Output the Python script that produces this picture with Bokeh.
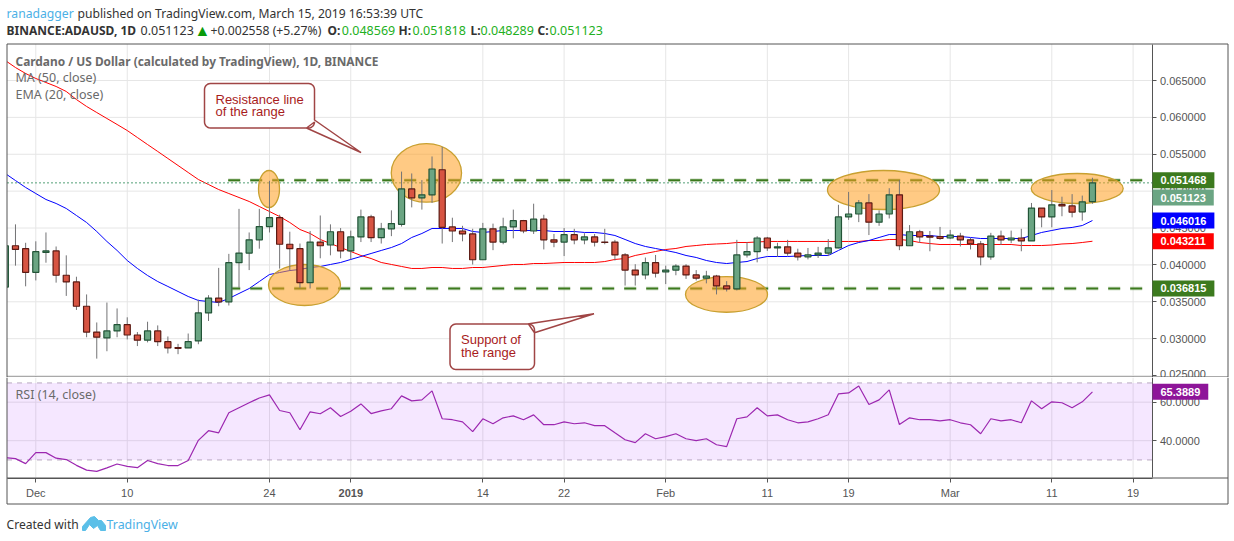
from bokeh.plotting import figure
from bokeh.layouts import column
from bokeh.models import Label, FixedTicker, NumeralTickFormatter, Range1d
from bokeh.embed import file_html
from bokeh.resources import INLINE
import math

# all prices below are in thousandths of a US dollar
first_day = -3  # 2018-11-28, day 0 is 2018-12-01
opens = [37.0,42.6,42.2,39.0,41.7,41.9,38.6,37.7,34.4,30.9,30.1,31.05,31.9,30.5,29.8,31.05,29.6,28.8,28.75,29.7,33.5,35.5,35.0,40.3,41.6,43.4,45.2,46.4,42.8,42.2,37.6,43.1,42.7,44.5,41.9,43.8,46.5,43.7,44.9,45.5,50.3,49.1,49.5,52.9,45.15,44.6,44.2,40.7,44.9,43.1,45.15,46.0,44.6,46.2,43.4,43.1,44.1,43.4,43.8,43.1,43.1,41.35,39.3,38.65,40.3,39.05,39.3,39.85,38.65,38.2,38.5,37.15,36.75,41.35,41.8,43.65,42.3,42.45,41.6,41.1,41.35,41.6,42.3,46.5,46.9,48.4,45.8,46.9,49.5,42.6,44.5,43.9,43.85,43.65,43.9,43.4,42.85,41.1,43.9,43.4,43.65,43.25,47.7,46.5,48.2,48.0,47.2,48.569]
closes = [42.6,42.1,39.0,41.8,41.9,38.6,37.7,34.4,30.9,30.2,31.05,31.9,30.5,29.8,31.05,29.6,28.75,28.7,29.6,33.5,35.5,35.0,40.3,41.6,43.4,45.2,46.4,42.8,42.2,37.6,43.1,42.6,44.5,41.9,43.8,46.5,43.7,44.9,45.6,50.3,49.1,49.5,53.0,45.1,44.6,44.2,40.7,44.9,43.1,45.15,46.0,44.6,46.2,43.4,43.1,44.1,43.4,43.8,43.1,43.05,41.35,39.3,38.65,40.3,38.9,39.3,39.85,38.65,38.2,38.5,37.15,36.75,41.35,41.8,43.65,42.3,42.45,41.6,41.1,41.35,41.6,42.3,46.5,46.9,48.4,45.8,46.9,49.5,42.6,44.5,43.8,43.75,43.6,44.05,43.4,42.85,41.1,43.9,43.4,43.65,43.25,47.7,46.5,48.15,48.0,47.15,48.55,51.123]
highs = [44.5,45.5,43.0,43.2,44.4,42.5,41.3,38.4,36.0,32.2,34.9,34.1,32.9,30.9,32.3,31.8,30.3,29.3,30.7,35.3,35.9,39.6,41.5,47.6,44.4,47.6,51.4,46.8,44.5,42.9,44.6,46.7,45.5,45.0,44.65,47.5,46.8,45.7,47.4,52.65,52.4,51.5,54.7,56.0,46.4,45.3,44.9,45.7,45.6,46.4,47.5,46.1,48.3,46.8,44.2,45.0,44.9,44.3,44.2,44.9,43.4,41.6,40.1,41.0,41.35,39.9,40.1,40.1,39.3,39.2,38.65,37.8,43.4,43.1,43.9,43.8,43.0,43.4,42.2,42.3,42.45,43.5,48.15,49.9,48.8,49.6,47.4,50.4,51.5,45.4,44.75,44.6,45.15,44.75,44.35,43.65,43.25,44.35,44.65,44.65,44.9,48.4,47.7,50.15,49.25,49.6,49.4,51.818]
lows = [36.5,39.9,37.1,37.9,40.3,37.6,35.8,33.9,30.2,27.3,28.3,30.2,29.9,29.0,29.5,29.0,28.0,27.9,28.75,29.25,32.4,34.4,34.5,36.9,39.3,42.2,44.4,39.5,39.2,36.9,36.8,40.9,41.3,40.9,40.8,43.1,43.1,42.9,43.9,45.2,47.8,47.5,48.4,42.9,43.1,43.2,40.05,40.7,42.0,42.8,43.6,44.3,44.2,42.1,42.4,41.2,42.8,42.8,42.5,42.8,40.6,37.2,37.2,38.05,38.3,37.4,38.6,38.1,37.9,37.5,36.0,36.4,36.55,41.0,40.35,41.9,41.1,41.25,40.6,40.75,40.95,41.2,42.25,46.1,45.8,44.05,45.3,46.3,42.0,42.6,43.0,41.85,43.4,43.5,42.5,42.1,39.95,40.7,42.7,42.95,41.85,43.25,45.1,45.1,46.6,46.45,46.0,48.289]
ma50 = [67.71,66.76,65.95,65.27,64.73,64.19,63.51,62.42,61.48,60.66,59.85,59.04,58.22,57.27,56.32,55.38,54.43,53.48,52.53,51.58,50.90,50.22,49.68,49.14,48.60,47.92,47.24,46.56,45.75,44.80,44.26,43.45,42.90,42.36,41.82,41.28,40.87,40.33,40.06,39.79,39.52,39.52,39.65,39.65,39.52,39.52,39.65,39.65,39.79,39.93,40.06,40.06,40.19,40.19,40.26,40.33,40.33,40.33,40.33,40.46,40.74,40.87,41.28,41.55,41.82,42.09,42.23,42.50,42.63,42.77,42.84,42.90,43.04,43.04,43.11,43.18,43.18,43.18,43.18,43.18,43.18,43.18,43.18,43.18,43.18,43.31,43.31,43.45,43.45,43.31,43.04,42.90,42.77,42.77,42.77,42.77,42.77,42.77,42.77,42.77,42.63,42.63,42.63,42.70,42.84,42.90,43.04,43.211]
ema20 = [52.39,51.44,50.50,49.68,48.87,48.33,47.65,46.70,45.75,44.53,43.18,41.96,40.60,39.52,38.57,37.75,37.08,36.40,35.72,35.18,35.04,34.91,35.45,36.13,36.80,37.75,38.70,38.97,39.24,39.38,39.65,39.79,40.06,40.33,40.74,41.14,41.55,41.96,42.36,42.90,43.72,44.26,44.94,44.94,44.94,44.94,44.53,44.40,44.53,44.67,44.67,44.67,44.67,44.67,44.53,44.53,44.53,44.40,44.40,44.26,43.99,43.45,42.90,42.50,42.23,41.96,41.68,41.28,41.01,40.60,40.33,40.19,40.33,40.46,40.87,41.14,41.14,41.14,41.21,41.28,41.28,41.28,41.96,42.63,43.04,43.31,43.72,44.12,44.12,43.99,43.99,43.99,43.85,43.85,43.85,43.72,43.58,43.58,43.58,43.58,43.58,43.99,44.40,44.67,44.94,45.08,45.34,46.016]
rsi = [31.2,30.7,28.1,33.8,33.8,30.9,30.2,27.2,24.7,24.1,25.9,27.9,26.7,26.0,29.7,28.1,27.1,27.1,29.7,40.2,45.2,44.1,54.5,57.1,59.7,62.2,63.8,55.7,54.5,45.7,55.0,54.0,57.1,52.6,55.3,59.1,54.1,55.5,56.6,63.3,60.7,61.2,65.9,51.4,50.9,49.8,44.7,51.4,48.8,51.9,52.9,50.9,53.4,48.3,48.3,49.8,48.8,49.3,47.8,47.8,44.1,40.5,39.0,43.6,41.0,42.1,43.6,41.0,40.0,41.0,37.9,36.9,51.4,52.4,57.1,52.9,53.4,50.9,49.3,49.8,51.4,53.5,64.3,64.8,68.4,58.8,61.2,66.4,48.4,51.9,50.9,50.9,50.3,50.9,49.3,48.3,43.6,51.4,50.3,50.9,49.3,60.7,56.6,60.2,59.7,57.1,60.2,65.3889]
resistance = 51.468
support = 36.815
last_close = 51.123
tick_days = [0, 9, 23, 31, 44, 52, 62, 72, 80, 90, 100, 108]
tick_labels = ["Dec", "10", "24", "", "14", "22", "Feb", "11", "19", "Mar", "11", "19"]
price_ticks = [25, 30, 35, 40, 45, 50, 55, 60, 65]
rsi_ticks = [40, 60]

UP, DOWN, UP_EDGE, DOWN_EDGE, WICK = "#6ba583", "#d75442", "#225437", "#5b1a13", "#737375"
FRAME = "#555555"
GRID = "#e6e6e6"
TXT = "#6a6a6a"
SANS = "Noto Sans"
ARIAL = "Liberation Sans"
n = len(opens)
days = [first_day + i for i in range(n)]
P = 0.001

# pixel helpers for decoration (annotation texts, callouts, frame)
def dx(px): return (px - 35.3) / 10.16
def dy(py): return (65 - (py - 80) / 7.377) * P
def ry(py): return 60 - (py - 401.7) / 1.925

L, R = 6.5, 1151.5
xr = Range1d(dx(0), dx(1234))
main = figure(width=1234, height=377, min_border=0, x_range=xr, y_range=Range1d(dy(377), dy(0)),
              y_axis_location="right", output_backend="svg", toolbar_location=None)
main.xaxis.visible = False
main.grid.visible = False
main.outline_line_color = None
ax = main.yaxis[0]
ax.fixed_location = dx(R)
ax.bounds = (dy(377), dy(43.5))
ax.ticker = FixedTicker(ticks=[v * P for v in price_ticks])
ax.formatter = NumeralTickFormatter(format="0.000000")
ax.major_tick_in = 0; ax.major_tick_out = 4; ax.minor_tick_line_color = None
ax.axis_line_color = FRAME; ax.major_tick_line_color = FRAME
ax.major_label_text_font = ARIAL; ax.major_label_text_font_size = "11px"
ax.major_label_text_color = "#555555"; ax.major_label_standoff = 4

# grid
main.segment([dx(L)] * len(price_ticks), [v * P for v in price_ticks], [dx(R)] * len(price_ticks), [v * P for v in price_ticks],
             line_color=GRID, line_width=1)
main.segment(tick_days, [dy(43.5)] * len(tick_days), tick_days, [dy(377)] * len(tick_days), line_color=GRID, line_width=1)

main.line(days, [v * P for v in ma50], line_color="#ff0000", line_width=1)
main.line(days, [v * P for v in ema20], line_color="#0000ff", line_width=1)

# last price dotted line and range lines
main.line([dx(L), dx(R)], [last_close * P] * 2, line_color="#53a078", line_width=1, line_dash="2 2")
for lvl, x0, off in ((resistance, dx(227.7), 0), (support, dx(231.7), 4)):
    main.line([x0, dx(1142)], [lvl * P] * 2, line_color="#3c7a1e", line_width=4, line_dash="12 10", line_dash_offset=off, line_alpha=0.2)
    main.line([x0, dx(1142)], [lvl * P] * 2, line_color="#3c7a1e", line_width=2, line_dash="12 10", line_dash_offset=off)

# highlighted zones
ell_x = [dx(268.5), dx(304), dx(425.9), dx(726), dx(883), dx(1076.7)]
ell_y = [dy(188.5), dy(284.5), dy(172.4), dy(293.9), dy(189.5), dy(188)]
ell_w = [21 / 10.16, 72 / 10.16, 70.3 / 10.16, 82 / 10.16, 112 / 10.16, 92 / 10.16]
ell_h = [37 * P / 7.377, 41 * P / 7.377, 58.7 * P / 7.377, 35.7 * P / 7.377, 39 * P / 7.377, 30 * P / 7.377]
main.ellipse(ell_x, ell_y, ell_w, ell_h, fill_color="#ff9e1f", fill_alpha=0.55, line_color="#c8a030", line_width=1.3)

# candles
colors = [UP if c >= o else DOWN for o, c in zip(opens, closes)]
edges = [UP_EDGE if c >= o else DOWN_EDGE for o, c in zip(opens, closes)]
main.segment(days, [v * P for v in highs], days, [v * P for v in lows], line_color=WICK, line_width=1)
main.vbar(days, 0.6, [v * P for v in opens], [v * P for v in closes], fill_color=colors, line_color=edges, line_width=1.2)

# left margin mask, then frame
main.quad(left=dx(0), right=dx(L), bottom=dy(377), top=dy(0), fill_color="white", line_color=None)
main.segment([dx(L), dx(L), dx(1227.5)], [dy(43.5), dy(43.5), dy(43.5)], [dx(1227.5), dx(L), dx(1227.5)], [dy(43.5), dy(377), dy(377)],
             line_color=FRAME, line_width=1)
main.segment([dx(L)], [dy(376.5)], [dx(1227.5)], [dy(376.5)], line_color=FRAME, line_width=1)

def callout(body, r=6):
    """rounded box + tail, pixel polygon"""
    (l, t, rr, b), tail = body
    pts = []
    def arc(cx, cy, a0):
        for k in range(7):
            a = math.radians(a0 + 15 * k)
            pts.append((cx + r * math.cos(a), cy + r * math.sin(a)))
    arc(l + r, t + r, 180)
    pts += tail.get("top", [])
    arc(rr - r, t + r, 270)
    pts += tail.get("right", [])
    arc(rr - r, b - r, 0)
    pts += tail.get("bottom", [])
    arc(l + r, b - r, 90)
    main.patch([dx(p[0]) for p in pts], [dy(p[1]) for p in pts], fill_color="white",
               line_color="#a04545", line_width=1.5)

callout(((204, 83, 314, 127.5), {"right": [(314, 119.5), (360.5, 152), (306, 127.5)]}))
callout(((449.5, 323.5, 534, 369), {"top": [(527, 323.5), (593.5, 313.3), (534, 332.3)]}))

def lab(fig, x, y, text, color=TXT, size="12px", font=SANS, style="normal", **kw):
    fig.add_layout(Label(x=x, y=y, text=text, text_color=color, text_font_size=size, text_font=font,
                         text_font_style=style, text_baseline="middle", **kw))

for t, px, py in (("Resistance line", 215, 98.7), ("of the range", 215, 110.7), ("Support of", 460.5, 339.3), ("the range", 460.5, 351.7)):
    lab(main, dx(px), dy(py), t, "#a81c1c", "13px", ARIAL)

# header
H1, H2 = 12.5, 29.5
BLUE_TV, DARK, GREEN = "#4bb0e6", "#333333", "#22b022"
lab(main, dx(6), dy(H1), "ranadagger", BLUE_TV, "12.2px")
lab(main, dx(77), dy(H1), "published on TradingView.com, March 15, 2019 16:53:39 UTC", DARK, "12.15px")
lab(main, dx(6), dy(H2), "BINANCE:ADAUSD, 1D", DARK, "12px", style="bold")
lab(main, dx(140), dy(H2), "0.051123", DARK, "12.5px")
lab(main, dx(194), dy(H2), "\u25b2", "#0a9b0a", "16px")
lab(main, dx(210), dy(H2), "+0.002558 (+5.27%)", DARK, "12.2px")
for t, px in (("O:", 327), ("H:", 398), ("L:", 470), ("C:", 537)):
    lab(main, dx(px), dy(H2), t, DARK, "12px", style="bold")
for v, px in ((opens[-1], 341.3), (highs[-1], 412), (lows[-1], 480), (closes[-1], 549)):
    lab(main, dx(px), dy(H2), f"{v * P:.6f}", GREEN, "12.5px")

# legend
lab(main, dx(15), dy(60), "Cardano / US Dollar (calculated by TradingView), 1D, BINANCE", TXT, "11.9px", style="bold")
lab(main, dx(15), dy(77), "MA (50, close)", TXT, "12.5px")
lab(main, dx(15), dy(94), "EMA (20, close)", TXT, "12.5px")

# price tags
def tag(fig, yval, text, color):
    fig.add_layout(Label(x=dx(1152), y=yval, text=text, text_color="white", text_font=ARIAL, text_font_size="11px",
                         text_font_style="bold", text_baseline="middle", background_fill_color=color,
                         padding=(8, 8, 4, 4)))
tag(main, resistance * P, f"{resistance * P:.6f}", "#3c7a1e")
tag(main, dy(197), f"{last_close * P:.6f}", UP)  # pushed below the resistance tag, as in the original
tag(main, ema20[-1] * P, f"{ema20[-1] * P:.6f}", "#0000ff")
tag(main, ma50[-1] * P, f"{ma50[-1] * P:.6f}", "#ff0000")
tag(main, support * P, f"{support * P:.6f}", "#3c7a1e")

# RSI pane
low = figure(width=1234, height=164, min_border=0, x_range=xr, y_range=Range1d(ry(541), ry(377)),
             y_axis_location="right", output_backend="svg", toolbar_location=None)
low.outline_line_color = None
low.grid.visible = False
low.segment([dx(L)] * 2, rsi_ticks, [dx(R)] * 2, rsi_ticks, line_color=GRID, line_width=1)
low.segment(tick_days, [ry(377)] * len(tick_days), tick_days, [ry(477)] * len(tick_days), line_color=GRID, line_width=1)
low.quad(left=dx(L), right=dx(R), bottom=30, top=70, fill_color="#9915ff", fill_alpha=0.1, line_color=None)
for lvl in (30, 70):
    low.line([dx(L), dx(R)], [lvl, lvl], line_color="#b8a8c0", line_width=1, line_dash="5 5")
low.line(days, rsi, line_color="#9c27b0", line_width=1.2)
low.quad(left=dx(0), right=dx(L), bottom=ry(541), top=ry(377), fill_color="white", line_color=None)

ay = low.yaxis[0]
ay.fixed_location = dx(R)
ay.bounds = (ry(477), ry(377))
ay.ticker = FixedTicker(ticks=rsi_ticks)
ay.formatter = NumeralTickFormatter(format="0.0000")
ax2 = low.xaxis[0]
ax2.fixed_location = ry(477.5)
ax2.bounds = (dx(L), dx(R))
ax2.ticker = FixedTicker(ticks=tick_days)
ax2.major_label_overrides = {d: t for d, t in zip(tick_days, tick_labels)}
for a in (ay, ax2):
    a.major_tick_in = 0; a.major_tick_out = 4; a.minor_tick_line_color = None
    a.axis_line_color = FRAME; a.major_tick_line_color = FRAME
    a.major_label_text_font = ARIAL; a.major_label_text_font_size = "11px"
    a.major_label_text_color = "#555555"; a.major_label_standoff = 4
ax2.major_label_standoff = 5

# frame lines of the lower panes
low.segment([dx(L), dx(1227.5), dx(L), dx(L)], [ry(377), ry(377), ry(477.5), ry(503.5)],
            [dx(L), dx(1227.5), dx(1227.5), dx(1227.5)], [ry(503.5), ry(503.5), ry(477.5), ry(503.5)],
            line_color=FRAME, line_width=1)

lab(low, dx(15), ry(393.5), "RSI (14, close)", TXT, "12.5px")
lab(low, 31, ry(492), "2019", "#555555", "11px", ARIAL, "bold", text_align="center")
tag(low, rsi[-1], f"{rsi[-1]:.4f}", "#8e1599")

# footer
lab(low, dx(6), ry(523.5), "Created with", DARK, "12.1px")
lab(low, dx(106), ry(523.5), "TradingView", BLUE_TV, "12.4px")
logo = [(82, 530), (82, 526), (90, 517), (94, 516), (98, 520), (101, 520), (105, 525), (105, 530), (100, 530), (97, 525), (93, 528), (89, 524), (85, 530)]
low.patch([dx(p[0]) for p in logo], [ry(p[1]) for p in logo], fill_color="#5bbfe8", line_color="#5bbfe8", line_width=1)

page = column(main, low, spacing=0)
open("out.html", "w").write(file_html(page, INLINE))
